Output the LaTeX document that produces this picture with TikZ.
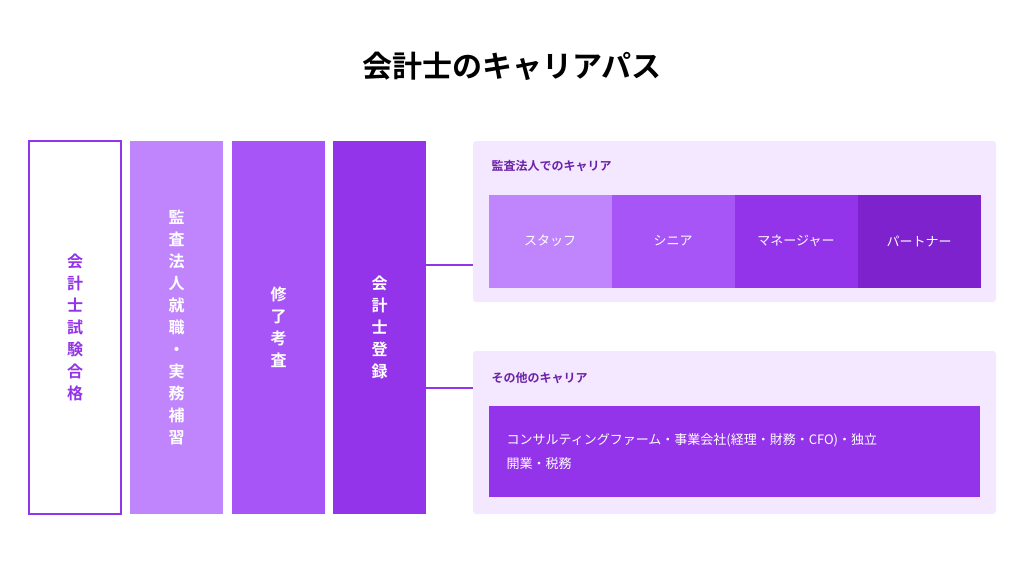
\documentclass[tikz,border=0pt]{standalone}
\usepackage{fontspec}
\setmainfont{Noto Sans CJK JP}
\newfontfamily\jpb{Noto Sans CJK JP Bold}
\definecolor{pA}{HTML}{C084FC}
\definecolor{pB}{HTML}{A855F7}
\definecolor{pC}{HTML}{9333EA}
\definecolor{pD}{HTML}{7E22CE}
\definecolor{pBg}{HTML}{F3E8FF}
\definecolor{pT}{HTML}{6B21A8}
\tikzset{
 col/.style={draw=none,text=white,font=\fontsize{16}{22}\selectfont\jpb,align=center},
 panel/.style={fill=pBg,rounded corners=3pt,draw=none},
 plab/.style={anchor=west,text=pT,font=\fontsize{12}{14}\selectfont\jpb},
 cell/.style={text=white,font=\fontsize{13}{15}\selectfont,minimum width=123pt,minimum height=93pt,inner sep=0pt},
 link/.style={draw=pC,line width=1.2pt}
}
\begin{document}
\begin{tikzpicture}[x=1pt,y=-1pt]
\useasboundingbox (0,0) rectangle (1024,568);
\node[font=\fontsize{30}{34}\selectfont\jpb] (title) at (512,66) {会計士のキャリアパス};
% columns
\draw[pC,line width=1.2pt,fill=white] (29,141) rectangle (121,514);
\node[col,text=pC] (c1) at (75,327) {会\\計\\士\\試\\験\\合\\格};
\fill[pA] (130,141) rectangle (223,514);
\node[col] (c2) at (176.5,327) {監\\査\\法\\人\\就\\職\\・\\実\\務\\補\\習};
\fill[pB] (232,141) rectangle (325,514);
\node[col] (c3) at (278.5,327) {修\\了\\考\\査};
\fill[pC] (333,141) rectangle (426,514);
\node[col] (c4) at (379.5,327) {会\\計\\士\\登\\録};
\coordinate (l1a) at (426,265); \coordinate (l1b) at (473,265);
\coordinate (l2a) at (426,388); \coordinate (l2b) at (473,388);
\draw[link] (l1a) -- (l1b);
\draw[link] (l2a) -- (l2b);
% panel 1
\fill[panel] (473,141) rectangle (996,302);
\node[plab] (p1) at (488,166) {監査法人でのキャリア};
\node[cell,fill=pA] (s1) at (550,241) {スタッフ};
\node[cell,fill=pB] (s2) at (673,241) {シニア};
\node[cell,fill=pC] (s3) at (796,241) {マネージャー};
\node[cell,fill=pD] (s4) at (919,241) {パートナー};
% panel 2
\fill[panel] (473,351) rectangle (996,514);
\node[plab] (p2) at (488,378) {その他のキャリア};
\fill[pC] (489,406) rectangle (980,497);
\node[anchor=west,text=white,font=\fontsize{13}{24}\selectfont,align=left] (o) at (503,451.5) {コンサルティングファーム・事業会社(経理・財務・CFO)・独立\\開業・税務};
\end{tikzpicture}
\end{document}
